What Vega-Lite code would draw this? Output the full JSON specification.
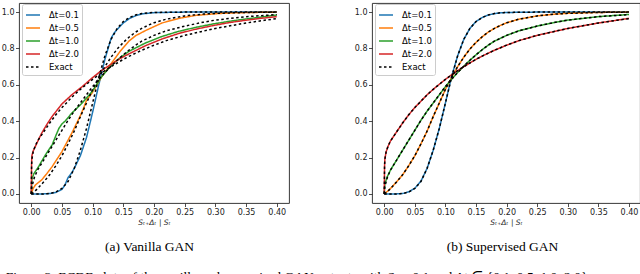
{
"$schema": "https://vega.github.io/schema/vega-lite/v6.json",
"padding": {"left": 0, "top": 2, "right": 0, "bottom": 0},
"bounds": "flush",
"spacing": 83,
"config": {
  "view": {"stroke": "#222", "strokeWidth": 0.9},
  "axis": {"domain": false, "grid": false, "tickColor": "#222", "tickSize": 3.5, "tickWidth": 0.8, "labelFont": "DejaVu Sans", "labelFontSize": 8, "labelColor": "#222", "labelPadding": 1.5, "titleFont": "DejaVu Sans", "titleFontStyle": "italic", "titleFontWeight": "normal", "titleFontSize": 7.5, "titleColor": "#222", "titlePadding": 2},
  "legend": {"orient": "none", "legendX": 3, "legendY": 1, "padding": 3, "fillColor": "white", "strokeColor": "#cccccc", "cornerRadius": 2, "symbolType": "stroke", "symbolSize": 196, "labelFont": "DejaVu Sans", "labelFontSize": 8.5, "labelColor": "#000", "labelOffset": 8, "rowPadding": -3.5, "title": null}
},
"title": {"text": "Figure 3: ECDF plots of the vanilla and supervised GAN outputs with Sₜ = 0.1 and Δt ∈ {0.1, 0.5, 1.0, 2.0}.", "orient": "bottom", "anchor": "start", "frame": "bounds", "font": "Liberation Serif", "fontSize": 13.5, "fontWeight": "normal", "color": "#000", "offset": 17, "dx": 5},
"datasets": {"curves": [
{"p":"a","s":"Δt=0.1","c":"a1","x":0,"y":0},{"p":"a","s":"Δt=0.1","c":"a1","x":0.02,"y":0},{"p":"a","s":"Δt=0.1","c":"a1","x":0.03,"y":0.002},{"p":"a","s":"Δt=0.1","c":"a1","x":0.04,"y":0.008},{"p":"a","s":"Δt=0.1","c":"a1","x":0.05,"y":0.025},{"p":"a","s":"Δt=0.1","c":"a1","x":0.055,"y":0.05},{"p":"a","s":"Δt=0.1","c":"a1","x":0.06,"y":0.09},{"p":"a","s":"Δt=0.1","c":"a1","x":0.065,"y":0.112},{"p":"a","s":"Δt=0.1","c":"a1","x":0.07,"y":0.14},{"p":"a","s":"Δt=0.1","c":"a1","x":0.08,"y":0.21},{"p":"a","s":"Δt=0.1","c":"a1","x":0.09,"y":0.31},{"p":"a","s":"Δt=0.1","c":"a1","x":0.1,"y":0.45},{"p":"a","s":"Δt=0.1","c":"a1","x":0.11,"y":0.6},{"p":"a","s":"Δt=0.1","c":"a1","x":0.12,"y":0.74},{"p":"a","s":"Δt=0.1","c":"a1","x":0.13,"y":0.855},{"p":"a","s":"Δt=0.1","c":"a1","x":0.135,"y":0.885},{"p":"a","s":"Δt=0.1","c":"a1","x":0.14,"y":0.905},{"p":"a","s":"Δt=0.1","c":"a1","x":0.15,"y":0.94},{"p":"a","s":"Δt=0.1","c":"a1","x":0.16,"y":0.965},{"p":"a","s":"Δt=0.1","c":"a1","x":0.17,"y":0.98},{"p":"a","s":"Δt=0.1","c":"a1","x":0.18,"y":0.99},{"p":"a","s":"Δt=0.1","c":"a1","x":0.2,"y":0.997},{"p":"a","s":"Δt=0.1","c":"a1","x":0.25,"y":1},{"p":"a","s":"Δt=0.1","c":"a1","x":0.4,"y":1},
{"p":"a","s":"Δt=0.5","c":"a2","x":0,"y":0},{"p":"a","s":"Δt=0.5","c":"a2","x":0.003,"y":0.03},{"p":"a","s":"Δt=0.5","c":"a2","x":0.007,"y":0.05},{"p":"a","s":"Δt=0.5","c":"a2","x":0.017,"y":0.077},{"p":"a","s":"Δt=0.5","c":"a2","x":0.025,"y":0.11},{"p":"a","s":"Δt=0.5","c":"a2","x":0.034,"y":0.15},{"p":"a","s":"Δt=0.5","c":"a2","x":0.05,"y":0.233},{"p":"a","s":"Δt=0.5","c":"a2","x":0.066,"y":0.334},{"p":"a","s":"Δt=0.5","c":"a2","x":0.08,"y":0.43},{"p":"a","s":"Δt=0.5","c":"a2","x":0.085,"y":0.47},{"p":"a","s":"Δt=0.5","c":"a2","x":0.09,"y":0.515},{"p":"a","s":"Δt=0.5","c":"a2","x":0.099,"y":0.555},{"p":"a","s":"Δt=0.5","c":"a2","x":0.115,"y":0.646},{"p":"a","s":"Δt=0.5","c":"a2","x":0.131,"y":0.72},{"p":"a","s":"Δt=0.5","c":"a2","x":0.145,"y":0.785},{"p":"a","s":"Δt=0.5","c":"a2","x":0.159,"y":0.84},{"p":"a","s":"Δt=0.5","c":"a2","x":0.17,"y":0.87},{"p":"a","s":"Δt=0.5","c":"a2","x":0.186,"y":0.898},{"p":"a","s":"Δt=0.5","c":"a2","x":0.2,"y":0.92},{"p":"a","s":"Δt=0.5","c":"a2","x":0.213,"y":0.94},{"p":"a","s":"Δt=0.5","c":"a2","x":0.24,"y":0.965},{"p":"a","s":"Δt=0.5","c":"a2","x":0.268,"y":0.982},{"p":"a","s":"Δt=0.5","c":"a2","x":0.3,"y":0.991},{"p":"a","s":"Δt=0.5","c":"a2","x":0.322,"y":0.995},{"p":"a","s":"Δt=0.5","c":"a2","x":0.36,"y":0.998},{"p":"a","s":"Δt=0.5","c":"a2","x":0.4,"y":1},
{"p":"a","s":"Δt=1.0","c":"a3","x":0,"y":0},{"p":"a","s":"Δt=1.0","c":"a3","x":0.001,"y":0.08},{"p":"a","s":"Δt=1.0","c":"a3","x":0.004,"y":0.11},{"p":"a","s":"Δt=1.0","c":"a3","x":0.007,"y":0.125},{"p":"a","s":"Δt=1.0","c":"a3","x":0.012,"y":0.15},{"p":"a","s":"Δt=1.0","c":"a3","x":0.017,"y":0.18},{"p":"a","s":"Δt=1.0","c":"a3","x":0.025,"y":0.225},{"p":"a","s":"Δt=1.0","c":"a3","x":0.034,"y":0.27},{"p":"a","s":"Δt=1.0","c":"a3","x":0.04,"y":0.32},{"p":"a","s":"Δt=1.0","c":"a3","x":0.045,"y":0.36},{"p":"a","s":"Δt=1.0","c":"a3","x":0.05,"y":0.385},{"p":"a","s":"Δt=1.0","c":"a3","x":0.055,"y":0.4},{"p":"a","s":"Δt=1.0","c":"a3","x":0.066,"y":0.444},{"p":"a","s":"Δt=1.0","c":"a3","x":0.083,"y":0.5},{"p":"a","s":"Δt=1.0","c":"a3","x":0.099,"y":0.563},{"p":"a","s":"Δt=1.0","c":"a3","x":0.115,"y":0.646},{"p":"a","s":"Δt=1.0","c":"a3","x":0.131,"y":0.71},{"p":"a","s":"Δt=1.0","c":"a3","x":0.145,"y":0.75},{"p":"a","s":"Δt=1.0","c":"a3","x":0.159,"y":0.784},{"p":"a","s":"Δt=1.0","c":"a3","x":0.186,"y":0.83},{"p":"a","s":"Δt=1.0","c":"a3","x":0.213,"y":0.866},{"p":"a","s":"Δt=1.0","c":"a3","x":0.24,"y":0.894},{"p":"a","s":"Δt=1.0","c":"a3","x":0.268,"y":0.916},{"p":"a","s":"Δt=1.0","c":"a3","x":0.295,"y":0.934},{"p":"a","s":"Δt=1.0","c":"a3","x":0.322,"y":0.949},{"p":"a","s":"Δt=1.0","c":"a3","x":0.349,"y":0.962},{"p":"a","s":"Δt=1.0","c":"a3","x":0.375,"y":0.973},{"p":"a","s":"Δt=1.0","c":"a3","x":0.4,"y":0.984},
{"p":"a","s":"Δt=2.0","c":"a4","x":0,"y":0},{"p":"a","s":"Δt=2.0","c":"a4","x":0.0005,"y":0.17},{"p":"a","s":"Δt=2.0","c":"a4","x":0.001,"y":0.21},{"p":"a","s":"Δt=2.0","c":"a4","x":0.003,"y":0.235},{"p":"a","s":"Δt=2.0","c":"a4","x":0.0065,"y":0.26},{"p":"a","s":"Δt=2.0","c":"a4","x":0.012,"y":0.3},{"p":"a","s":"Δt=2.0","c":"a4","x":0.017,"y":0.334},{"p":"a","s":"Δt=2.0","c":"a4","x":0.025,"y":0.38},{"p":"a","s":"Δt=2.0","c":"a4","x":0.034,"y":0.426},{"p":"a","s":"Δt=2.0","c":"a4","x":0.05,"y":0.495},{"p":"a","s":"Δt=2.0","c":"a4","x":0.066,"y":0.545},{"p":"a","s":"Δt=2.0","c":"a4","x":0.083,"y":0.59},{"p":"a","s":"Δt=2.0","c":"a4","x":0.099,"y":0.637},{"p":"a","s":"Δt=2.0","c":"a4","x":0.115,"y":0.68},{"p":"a","s":"Δt=2.0","c":"a4","x":0.131,"y":0.715},{"p":"a","s":"Δt=2.0","c":"a4","x":0.145,"y":0.745},{"p":"a","s":"Δt=2.0","c":"a4","x":0.159,"y":0.77},{"p":"a","s":"Δt=2.0","c":"a4","x":0.186,"y":0.815},{"p":"a","s":"Δt=2.0","c":"a4","x":0.213,"y":0.852},{"p":"a","s":"Δt=2.0","c":"a4","x":0.24,"y":0.882},{"p":"a","s":"Δt=2.0","c":"a4","x":0.268,"y":0.906},{"p":"a","s":"Δt=2.0","c":"a4","x":0.295,"y":0.925},{"p":"a","s":"Δt=2.0","c":"a4","x":0.322,"y":0.942},{"p":"a","s":"Δt=2.0","c":"a4","x":0.349,"y":0.955},{"p":"a","s":"Δt=2.0","c":"a4","x":0.375,"y":0.966},{"p":"a","s":"Δt=2.0","c":"a4","x":0.4,"y":0.975},
{"p":"b","s":"Δt=0.1","c":"b1","x":0,"y":0},{"p":"b","s":"Δt=0.1","c":"b1","x":0.02,"y":0},{"p":"b","s":"Δt=0.1","c":"b1","x":0.03,"y":0.002},{"p":"b","s":"Δt=0.1","c":"b1","x":0.04,"y":0.011},{"p":"b","s":"Δt=0.1","c":"b1","x":0.05,"y":0.031},{"p":"b","s":"Δt=0.1","c":"b1","x":0.06,"y":0.07},{"p":"b","s":"Δt=0.1","c":"b1","x":0.07,"y":0.14},{"p":"b","s":"Δt=0.1","c":"b1","x":0.08,"y":0.24},{"p":"b","s":"Δt=0.1","c":"b1","x":0.09,"y":0.36},{"p":"b","s":"Δt=0.1","c":"b1","x":0.1,"y":0.5},{"p":"b","s":"Δt=0.1","c":"b1","x":0.11,"y":0.645},{"p":"b","s":"Δt=0.1","c":"b1","x":0.12,"y":0.76},{"p":"b","s":"Δt=0.1","c":"b1","x":0.13,"y":0.85},{"p":"b","s":"Δt=0.1","c":"b1","x":0.14,"y":0.91},{"p":"b","s":"Δt=0.1","c":"b1","x":0.15,"y":0.948},{"p":"b","s":"Δt=0.1","c":"b1","x":0.16,"y":0.97},{"p":"b","s":"Δt=0.1","c":"b1","x":0.17,"y":0.984},{"p":"b","s":"Δt=0.1","c":"b1","x":0.18,"y":0.992},{"p":"b","s":"Δt=0.1","c":"b1","x":0.19,"y":0.996},{"p":"b","s":"Δt=0.1","c":"b1","x":0.2,"y":0.998},{"p":"b","s":"Δt=0.1","c":"b1","x":0.25,"y":1},{"p":"b","s":"Δt=0.1","c":"b1","x":0.4,"y":1},
{"p":"b","s":"Δt=0.5","c":"b2","x":0,"y":0},{"p":"b","s":"Δt=0.5","c":"b2","x":0.005,"y":0.014},{"p":"b","s":"Δt=0.5","c":"b2","x":0.01,"y":0.029},{"p":"b","s":"Δt=0.5","c":"b2","x":0.02,"y":0.065},{"p":"b","s":"Δt=0.5","c":"b2","x":0.03,"y":0.105},{"p":"b","s":"Δt=0.5","c":"b2","x":0.04,"y":0.155},{"p":"b","s":"Δt=0.5","c":"b2","x":0.05,"y":0.21},{"p":"b","s":"Δt=0.5","c":"b2","x":0.06,"y":0.275},{"p":"b","s":"Δt=0.5","c":"b2","x":0.07,"y":0.345},{"p":"b","s":"Δt=0.5","c":"b2","x":0.08,"y":0.425},{"p":"b","s":"Δt=0.5","c":"b2","x":0.09,"y":0.5},{"p":"b","s":"Δt=0.5","c":"b2","x":0.1,"y":0.575},{"p":"b","s":"Δt=0.5","c":"b2","x":0.11,"y":0.64},{"p":"b","s":"Δt=0.5","c":"b2","x":0.12,"y":0.7},{"p":"b","s":"Δt=0.5","c":"b2","x":0.13,"y":0.752},{"p":"b","s":"Δt=0.5","c":"b2","x":0.14,"y":0.797},{"p":"b","s":"Δt=0.5","c":"b2","x":0.15,"y":0.833},{"p":"b","s":"Δt=0.5","c":"b2","x":0.16,"y":0.864},{"p":"b","s":"Δt=0.5","c":"b2","x":0.17,"y":0.89},{"p":"b","s":"Δt=0.5","c":"b2","x":0.18,"y":0.91},{"p":"b","s":"Δt=0.5","c":"b2","x":0.19,"y":0.927},{"p":"b","s":"Δt=0.5","c":"b2","x":0.2,"y":0.941},{"p":"b","s":"Δt=0.5","c":"b2","x":0.22,"y":0.961},{"p":"b","s":"Δt=0.5","c":"b2","x":0.25,"y":0.979},{"p":"b","s":"Δt=0.5","c":"b2","x":0.28,"y":0.989},{"p":"b","s":"Δt=0.5","c":"b2","x":0.3,"y":0.993},{"p":"b","s":"Δt=0.5","c":"b2","x":0.35,"y":0.998},{"p":"b","s":"Δt=0.5","c":"b2","x":0.4,"y":1},
{"p":"b","s":"Δt=1.0","c":"b3","x":0,"y":0},{"p":"b","s":"Δt=1.0","c":"b3","x":0.001,"y":0.055},{"p":"b","s":"Δt=1.0","c":"b3","x":0.005,"y":0.095},{"p":"b","s":"Δt=1.0","c":"b3","x":0.01,"y":0.13},{"p":"b","s":"Δt=1.0","c":"b3","x":0.02,"y":0.185},{"p":"b","s":"Δt=1.0","c":"b3","x":0.03,"y":0.24},{"p":"b","s":"Δt=1.0","c":"b3","x":0.04,"y":0.295},{"p":"b","s":"Δt=1.0","c":"b3","x":0.05,"y":0.35},{"p":"b","s":"Δt=1.0","c":"b3","x":0.06,"y":0.405},{"p":"b","s":"Δt=1.0","c":"b3","x":0.07,"y":0.455},{"p":"b","s":"Δt=1.0","c":"b3","x":0.08,"y":0.5},{"p":"b","s":"Δt=1.0","c":"b3","x":0.09,"y":0.545},{"p":"b","s":"Δt=1.0","c":"b3","x":0.1,"y":0.59},{"p":"b","s":"Δt=1.0","c":"b3","x":0.11,"y":0.63},{"p":"b","s":"Δt=1.0","c":"b3","x":0.12,"y":0.668},{"p":"b","s":"Δt=1.0","c":"b3","x":0.13,"y":0.702},{"p":"b","s":"Δt=1.0","c":"b3","x":0.14,"y":0.735},{"p":"b","s":"Δt=1.0","c":"b3","x":0.15,"y":0.765},{"p":"b","s":"Δt=1.0","c":"b3","x":0.16,"y":0.793},{"p":"b","s":"Δt=1.0","c":"b3","x":0.17,"y":0.818},{"p":"b","s":"Δt=1.0","c":"b3","x":0.18,"y":0.84},{"p":"b","s":"Δt=1.0","c":"b3","x":0.2,"y":0.872},{"p":"b","s":"Δt=1.0","c":"b3","x":0.22,"y":0.897},{"p":"b","s":"Δt=1.0","c":"b3","x":0.25,"y":0.923},{"p":"b","s":"Δt=1.0","c":"b3","x":0.28,"y":0.944},{"p":"b","s":"Δt=1.0","c":"b3","x":0.3,"y":0.956},{"p":"b","s":"Δt=1.0","c":"b3","x":0.35,"y":0.975},{"p":"b","s":"Δt=1.0","c":"b3","x":0.4,"y":0.987},
{"p":"b","s":"Δt=2.0","c":"b4","x":0,"y":0},{"p":"b","s":"Δt=2.0","c":"b4","x":0.0005,"y":0.15},{"p":"b","s":"Δt=2.0","c":"b4","x":0.001,"y":0.19},{"p":"b","s":"Δt=2.0","c":"b4","x":0.003,"y":0.23},{"p":"b","s":"Δt=2.0","c":"b4","x":0.006,"y":0.26},{"p":"b","s":"Δt=2.0","c":"b4","x":0.01,"y":0.29},{"p":"b","s":"Δt=2.0","c":"b4","x":0.02,"y":0.34},{"p":"b","s":"Δt=2.0","c":"b4","x":0.03,"y":0.39},{"p":"b","s":"Δt=2.0","c":"b4","x":0.04,"y":0.435},{"p":"b","s":"Δt=2.0","c":"b4","x":0.05,"y":0.475},{"p":"b","s":"Δt=2.0","c":"b4","x":0.06,"y":0.51},{"p":"b","s":"Δt=2.0","c":"b4","x":0.07,"y":0.545},{"p":"b","s":"Δt=2.0","c":"b4","x":0.08,"y":0.575},{"p":"b","s":"Δt=2.0","c":"b4","x":0.09,"y":0.603},{"p":"b","s":"Δt=2.0","c":"b4","x":0.1,"y":0.63},{"p":"b","s":"Δt=2.0","c":"b4","x":0.11,"y":0.655},{"p":"b","s":"Δt=2.0","c":"b4","x":0.12,"y":0.678},{"p":"b","s":"Δt=2.0","c":"b4","x":0.13,"y":0.7},{"p":"b","s":"Δt=2.0","c":"b4","x":0.14,"y":0.72},{"p":"b","s":"Δt=2.0","c":"b4","x":0.15,"y":0.74},{"p":"b","s":"Δt=2.0","c":"b4","x":0.16,"y":0.758},{"p":"b","s":"Δt=2.0","c":"b4","x":0.18,"y":0.79},{"p":"b","s":"Δt=2.0","c":"b4","x":0.2,"y":0.818},{"p":"b","s":"Δt=2.0","c":"b4","x":0.22,"y":0.843},{"p":"b","s":"Δt=2.0","c":"b4","x":0.25,"y":0.872},{"p":"b","s":"Δt=2.0","c":"b4","x":0.28,"y":0.895},{"p":"b","s":"Δt=2.0","c":"b4","x":0.3,"y":0.91},{"p":"b","s":"Δt=2.0","c":"b4","x":0.33,"y":0.928},{"p":"b","s":"Δt=2.0","c":"b4","x":0.35,"y":0.94},{"p":"b","s":"Δt=2.0","c":"b4","x":0.38,"y":0.955},{"p":"b","s":"Δt=2.0","c":"b4","x":0.4,"y":0.966},
{"p":"e","s":"Exact","c":"e1","x":0,"y":0},{"p":"e","s":"Exact","c":"e1","x":0.02,"y":0},{"p":"e","s":"Exact","c":"e1","x":0.03,"y":0.002},{"p":"e","s":"Exact","c":"e1","x":0.04,"y":0.01},{"p":"e","s":"Exact","c":"e1","x":0.05,"y":0.03},{"p":"e","s":"Exact","c":"e1","x":0.06,"y":0.068},{"p":"e","s":"Exact","c":"e1","x":0.07,"y":0.14},{"p":"e","s":"Exact","c":"e1","x":0.08,"y":0.24},{"p":"e","s":"Exact","c":"e1","x":0.09,"y":0.36},{"p":"e","s":"Exact","c":"e1","x":0.1,"y":0.5},{"p":"e","s":"Exact","c":"e1","x":0.11,"y":0.64},{"p":"e","s":"Exact","c":"e1","x":0.12,"y":0.76},{"p":"e","s":"Exact","c":"e1","x":0.13,"y":0.85},{"p":"e","s":"Exact","c":"e1","x":0.14,"y":0.91},{"p":"e","s":"Exact","c":"e1","x":0.15,"y":0.948},{"p":"e","s":"Exact","c":"e1","x":0.16,"y":0.97},{"p":"e","s":"Exact","c":"e1","x":0.17,"y":0.984},{"p":"e","s":"Exact","c":"e1","x":0.18,"y":0.992},{"p":"e","s":"Exact","c":"e1","x":0.19,"y":0.996},{"p":"e","s":"Exact","c":"e1","x":0.2,"y":0.998},{"p":"e","s":"Exact","c":"e1","x":0.25,"y":1},{"p":"e","s":"Exact","c":"e1","x":0.4,"y":1},
{"p":"e","s":"Exact","c":"e2","x":0,"y":0},{"p":"e","s":"Exact","c":"e2","x":0.005,"y":0.012},{"p":"e","s":"Exact","c":"e2","x":0.01,"y":0.028},{"p":"e","s":"Exact","c":"e2","x":0.02,"y":0.065},{"p":"e","s":"Exact","c":"e2","x":0.03,"y":0.105},{"p":"e","s":"Exact","c":"e2","x":0.04,"y":0.155},{"p":"e","s":"Exact","c":"e2","x":0.05,"y":0.21},{"p":"e","s":"Exact","c":"e2","x":0.06,"y":0.275},{"p":"e","s":"Exact","c":"e2","x":0.07,"y":0.345},{"p":"e","s":"Exact","c":"e2","x":0.08,"y":0.425},{"p":"e","s":"Exact","c":"e2","x":0.09,"y":0.5},{"p":"e","s":"Exact","c":"e2","x":0.1,"y":0.575},{"p":"e","s":"Exact","c":"e2","x":0.11,"y":0.64},{"p":"e","s":"Exact","c":"e2","x":0.12,"y":0.7},{"p":"e","s":"Exact","c":"e2","x":0.13,"y":0.752},{"p":"e","s":"Exact","c":"e2","x":0.14,"y":0.797},{"p":"e","s":"Exact","c":"e2","x":0.15,"y":0.833},{"p":"e","s":"Exact","c":"e2","x":0.16,"y":0.864},{"p":"e","s":"Exact","c":"e2","x":0.17,"y":0.89},{"p":"e","s":"Exact","c":"e2","x":0.18,"y":0.91},{"p":"e","s":"Exact","c":"e2","x":0.19,"y":0.927},{"p":"e","s":"Exact","c":"e2","x":0.2,"y":0.941},{"p":"e","s":"Exact","c":"e2","x":0.22,"y":0.961},{"p":"e","s":"Exact","c":"e2","x":0.25,"y":0.979},{"p":"e","s":"Exact","c":"e2","x":0.28,"y":0.989},{"p":"e","s":"Exact","c":"e2","x":0.3,"y":0.993},{"p":"e","s":"Exact","c":"e2","x":0.35,"y":0.998},{"p":"e","s":"Exact","c":"e2","x":0.4,"y":1},
{"p":"e","s":"Exact","c":"e3","x":0,"y":0},{"p":"e","s":"Exact","c":"e3","x":0.001,"y":0.04},{"p":"e","s":"Exact","c":"e3","x":0.005,"y":0.09},{"p":"e","s":"Exact","c":"e3","x":0.01,"y":0.13},{"p":"e","s":"Exact","c":"e3","x":0.02,"y":0.185},{"p":"e","s":"Exact","c":"e3","x":0.03,"y":0.24},{"p":"e","s":"Exact","c":"e3","x":0.04,"y":0.295},{"p":"e","s":"Exact","c":"e3","x":0.05,"y":0.35},{"p":"e","s":"Exact","c":"e3","x":0.06,"y":0.405},{"p":"e","s":"Exact","c":"e3","x":0.07,"y":0.455},{"p":"e","s":"Exact","c":"e3","x":0.08,"y":0.5},{"p":"e","s":"Exact","c":"e3","x":0.09,"y":0.545},{"p":"e","s":"Exact","c":"e3","x":0.1,"y":0.59},{"p":"e","s":"Exact","c":"e3","x":0.11,"y":0.63},{"p":"e","s":"Exact","c":"e3","x":0.12,"y":0.668},{"p":"e","s":"Exact","c":"e3","x":0.13,"y":0.702},{"p":"e","s":"Exact","c":"e3","x":0.14,"y":0.735},{"p":"e","s":"Exact","c":"e3","x":0.15,"y":0.765},{"p":"e","s":"Exact","c":"e3","x":0.16,"y":0.793},{"p":"e","s":"Exact","c":"e3","x":0.17,"y":0.818},{"p":"e","s":"Exact","c":"e3","x":0.18,"y":0.84},{"p":"e","s":"Exact","c":"e3","x":0.2,"y":0.872},{"p":"e","s":"Exact","c":"e3","x":0.22,"y":0.897},{"p":"e","s":"Exact","c":"e3","x":0.25,"y":0.923},{"p":"e","s":"Exact","c":"e3","x":0.28,"y":0.944},{"p":"e","s":"Exact","c":"e3","x":0.3,"y":0.956},{"p":"e","s":"Exact","c":"e3","x":0.35,"y":0.975},{"p":"e","s":"Exact","c":"e3","x":0.4,"y":0.986},
{"p":"e","s":"Exact","c":"e4","x":0,"y":0},{"p":"e","s":"Exact","c":"e4","x":0.0005,"y":0.15},{"p":"e","s":"Exact","c":"e4","x":0.001,"y":0.19},{"p":"e","s":"Exact","c":"e4","x":0.003,"y":0.23},{"p":"e","s":"Exact","c":"e4","x":0.006,"y":0.26},{"p":"e","s":"Exact","c":"e4","x":0.01,"y":0.29},{"p":"e","s":"Exact","c":"e4","x":0.02,"y":0.34},{"p":"e","s":"Exact","c":"e4","x":0.03,"y":0.39},{"p":"e","s":"Exact","c":"e4","x":0.04,"y":0.435},{"p":"e","s":"Exact","c":"e4","x":0.05,"y":0.475},{"p":"e","s":"Exact","c":"e4","x":0.06,"y":0.51},{"p":"e","s":"Exact","c":"e4","x":0.07,"y":0.545},{"p":"e","s":"Exact","c":"e4","x":0.08,"y":0.575},{"p":"e","s":"Exact","c":"e4","x":0.09,"y":0.603},{"p":"e","s":"Exact","c":"e4","x":0.1,"y":0.63},{"p":"e","s":"Exact","c":"e4","x":0.11,"y":0.655},{"p":"e","s":"Exact","c":"e4","x":0.12,"y":0.678},{"p":"e","s":"Exact","c":"e4","x":0.13,"y":0.7},{"p":"e","s":"Exact","c":"e4","x":0.14,"y":0.72},{"p":"e","s":"Exact","c":"e4","x":0.15,"y":0.74},{"p":"e","s":"Exact","c":"e4","x":0.16,"y":0.758},{"p":"e","s":"Exact","c":"e4","x":0.18,"y":0.79},{"p":"e","s":"Exact","c":"e4","x":0.2,"y":0.818},{"p":"e","s":"Exact","c":"e4","x":0.22,"y":0.843},{"p":"e","s":"Exact","c":"e4","x":0.25,"y":0.872},{"p":"e","s":"Exact","c":"e4","x":0.28,"y":0.895},{"p":"e","s":"Exact","c":"e4","x":0.3,"y":0.91},{"p":"e","s":"Exact","c":"e4","x":0.33,"y":0.928},{"p":"e","s":"Exact","c":"e4","x":0.35,"y":0.94},{"p":"e","s":"Exact","c":"e4","x":0.38,"y":0.955},{"p":"e","s":"Exact","c":"e4","x":0.4,"y":0.964}
]},
"hconcat": [
{
  "width": 270, "height": 200,
  "title": {"text": "(a) Vanilla GAN", "orient": "bottom", "frame": "group", "dx": -4.5, "offset": 14, "font": "Liberation Serif", "fontSize": 13.5, "fontWeight": "normal", "color": "#000"},
  "data": {"name": "curves"},
  "transform": [{"filter": "datum.p === 'a' || datum.p === 'e'"}],
  "mark": {"type": "line", "clip": true},
  "encoding": {
    "x": {"field": "x", "type": "quantitative", "scale": {"domain": [-0.02, 0.42], "nice": false, "zero": false}, "axis": {"values": [0, 0.05, 0.1, 0.15, 0.2, 0.25, 0.3, 0.35, 0.4], "format": ".2f", "title": "Sₜ₊Δₜ | Sₜ"}},
    "y": {"field": "y", "type": "quantitative", "scale": {"domain": [-0.05, 1.05], "nice": false, "zero": false}, "axis": {"values": [0, 0.2, 0.4, 0.6, 0.8, 1.0], "format": ".1f", "title": null}},
    "color": {"field": "s", "type": "nominal", "scale": {"domain": ["Δt=0.1", "Δt=0.5", "Δt=1.0", "Δt=2.0", "Exact"], "range": ["#1f77b4", "#ff7f0e", "#2ca02c", "#d62728", "#000000"]}, "legend": {"title": null}},
    "strokeDash": {"field": "s", "type": "nominal", "scale": {"domain": ["Δt=0.1", "Δt=0.5", "Δt=1.0", "Δt=2.0", "Exact"], "range": [[1, 0], [1, 0], [1, 0], [1, 0], [2.5, 2.5]]}, "legend": {"title": null}},
    "strokeWidth": {"field": "s", "type": "nominal", "scale": {"domain": ["Δt=0.1", "Δt=0.5", "Δt=1.0", "Δt=2.0", "Exact"], "range": [1.5, 1.5, 1.5, 1.5, 0.9]}, "legend": {"title": null}},
    "detail": {"field": "c", "type": "nominal"}
  }
},
{
  "width": 268, "height": 200,
  "title": {"text": "(b) Supervised GAN", "orient": "bottom", "frame": "group", "dx": -3.5, "offset": 14, "font": "Liberation Serif", "fontSize": 13.5, "fontWeight": "normal", "color": "#000"},
  "data": {"name": "curves"},
  "transform": [{"filter": "datum.p === 'b' || datum.p === 'e'"}],
  "mark": {"type": "line", "clip": true},
  "encoding": {
    "x": {"field": "x", "type": "quantitative", "scale": {"domain": [-0.02, 0.418], "nice": false, "zero": false}, "axis": {"values": [0, 0.05, 0.1, 0.15, 0.2, 0.25, 0.3, 0.35, 0.4], "format": ".2f", "title": "Sₜ₊Δₜ | Sₜ"}},
    "y": {"field": "y", "type": "quantitative", "scale": {"domain": [-0.05, 1.05], "nice": false, "zero": false}, "axis": {"values": [0, 0.2, 0.4, 0.6, 0.8, 1.0], "format": ".1f", "title": null}},
    "color": {"field": "s", "type": "nominal", "scale": {"domain": ["Δt=0.1", "Δt=0.5", "Δt=1.0", "Δt=2.0", "Exact"], "range": ["#1f77b4", "#ff7f0e", "#2ca02c", "#d62728", "#000000"]}, "legend": {"title": null}},
    "strokeDash": {"field": "s", "type": "nominal", "scale": {"domain": ["Δt=0.1", "Δt=0.5", "Δt=1.0", "Δt=2.0", "Exact"], "range": [[1, 0], [1, 0], [1, 0], [1, 0], [2.5, 2.5]]}, "legend": {"title": null}},
    "strokeWidth": {"field": "s", "type": "nominal", "scale": {"domain": ["Δt=0.1", "Δt=0.5", "Δt=1.0", "Δt=2.0", "Exact"], "range": [1.5, 1.5, 1.5, 1.5, 0.9]}, "legend": {"title": null}},
    "detail": {"field": "c", "type": "nominal"}
  }
}
],
"resolve": {"scale": {"color": "independent", "strokeDash": "independent", "strokeWidth": "independent"}, "legend": {"color": "independent", "strokeDash": "independent", "strokeWidth": "independent"}}
}
